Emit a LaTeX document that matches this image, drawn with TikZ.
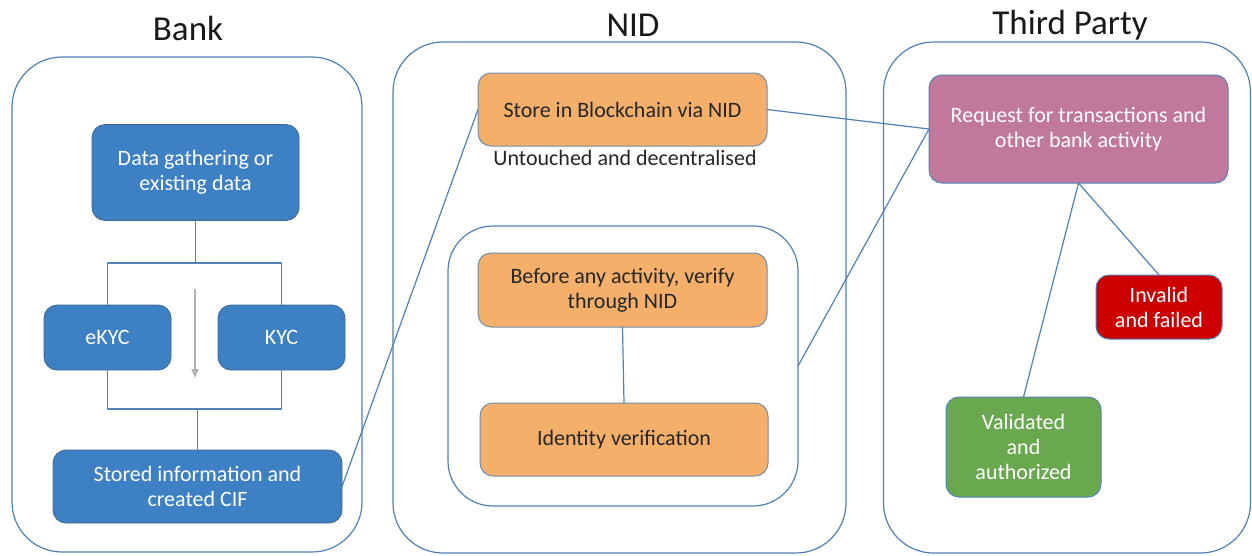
\documentclass[tikz,border=0pt]{standalone}
\usepackage{fontspec}
\setmainfont{Carlito}
\usetikzlibrary{arrows.meta}
\definecolor{lineblue}{HTML}{4F81B5}
\definecolor{boxblue}{HTML}{3D80C3}
\definecolor{boxorange}{HTML}{F4AF6A}
\definecolor{orangeedge}{HTML}{6F8CAE}
\definecolor{boxpink}{HTML}{C0789C}
\definecolor{boxred}{HTML}{CC0000}
\definecolor{boxgreen}{HTML}{6AA84F}
\tikzset{
  frame/.style={draw=lineblue, line width=1.2pt, rounded corners=50pt, inner sep=0pt, outer sep=0pt},
  conn/.style={draw=lineblue, line width=1.2pt},
  box/.style={rounded corners=13pt, inner sep=0pt, outer sep=0pt, align=center, font=\fontsize{22}{25}\selectfont},
  bluebox/.style={box, fill=boxblue, draw=lineblue!80!black, line width=0.8pt, text=white},
  orangebox/.style={box, fill=boxorange, draw=orangeedge, line width=1pt, text=black!85},
  pinkbox/.style={box, fill=boxpink, draw=lineblue, line width=1pt, text=white},
  redbox/.style={box, fill=boxred, draw=lineblue, line width=1pt, text=white},
  greenbox/.style={box, fill=boxgreen, draw=lineblue, line width=1pt, text=white},
  title/.style={font=\fontsize{35}{40}\selectfont, text=black!90, inner sep=0pt},
}
\begin{document}
\begin{tikzpicture}[x=1pt,y=-1pt]
\useasboundingbox (0,0) rectangle (1252,555);
% frames
\node[frame, minimum width=350pt, minimum height=495pt] (bank) at (187,304.5) {};
\node[frame, minimum width=453pt, minimum height=511pt] (nid) at (619.5,297.5) {};
\node[frame, rounded corners=45pt, minimum width=350pt, minimum height=280pt] (inner) at (623,366) {};
\node[frame, minimum width=367pt, minimum height=511pt] (third) at (1067,297.5) {};
% titles
\node[title] (tbank) at (188,28) {Bank};
\node[title] (tnid) at (633,25) {NID};
\node[title] (tthird) at (1070,25) {Third Party};
% bank boxes
\node[bluebox, minimum width=207pt, minimum height=96pt] (data) at (195.5,172.5) {Data gathering or\\existing data};
\node[bluebox, minimum width=127pt, minimum height=65pt] (ekyc) at (107.5,337.5) {eKYC};
\node[bluebox, minimum width=127pt, minimum height=65pt] (kyc) at (281.5,337.5) {KYC};
\node[bluebox, minimum width=289pt, minimum height=73pt] (stored) at (197.5,486.5) {Stored information and\\created CIF};
% NID boxes
\node[orangebox, minimum width=289pt, minimum height=73pt] (store) at (622.5,109.5) {Store in Blockchain via NID};
\node[font=\fontsize{22}{25}\selectfont, text=black!85, inner sep=0pt] (untouched) at (625,158) {Untouched and decentralised};
\node[orangebox, minimum width=289pt, minimum height=74pt] (before) at (622.5,290) {Before any activity, verify\\through NID};
\node[orangebox, minimum width=288pt, minimum height=73pt] (ident) at (624,439.5) {Identity verification};
% third party boxes
\node[pinkbox, minimum width=299pt, minimum height=108pt] (request) at (1078.5,129) {Request for transactions and\\other bank activity};
\node[redbox, minimum width=126pt, minimum height=64pt] (invalid) at (1159,307) {Invalid\\and failed};
\node[greenbox, minimum width=155pt, minimum height=100pt] (valid) at (1023.5,447) {Validated\\and\\authorized};
% bank bracket
\coordinate (bt) at (195.5,263);
\coordinate (bb) at (197.5,409);
\draw[conn] (data.south) -- (bt);
\draw[conn] (ekyc.north) -- (ekyc.north |- bt) -- (kyc.north |- bt) -- (kyc.north);
\draw[conn] (ekyc.south) -- (ekyc.south |- bb) -- (kyc.south |- bb) -- (kyc.south);
\draw[conn] (bb) -- (stored.north);
\coordinate (ga) at (195,289);
\coordinate (gb) at (195,378);
\draw[draw=black!30, line width=1.5pt, -{Triangle[length=9pt,width=7pt]}] (ga) -- (gb);
% connectors
\draw[conn] (stored.east) -- (store.west);
\draw[conn] (store.east) -- (request.west);
\draw[conn] (inner.east) -- (request.west);
\draw[conn] (before.south) -- (ident.north);
\draw[conn] (request.south) -- (valid.north);
\draw[conn] (request.south) -- (invalid.north);
\end{tikzpicture}
\end{document}
